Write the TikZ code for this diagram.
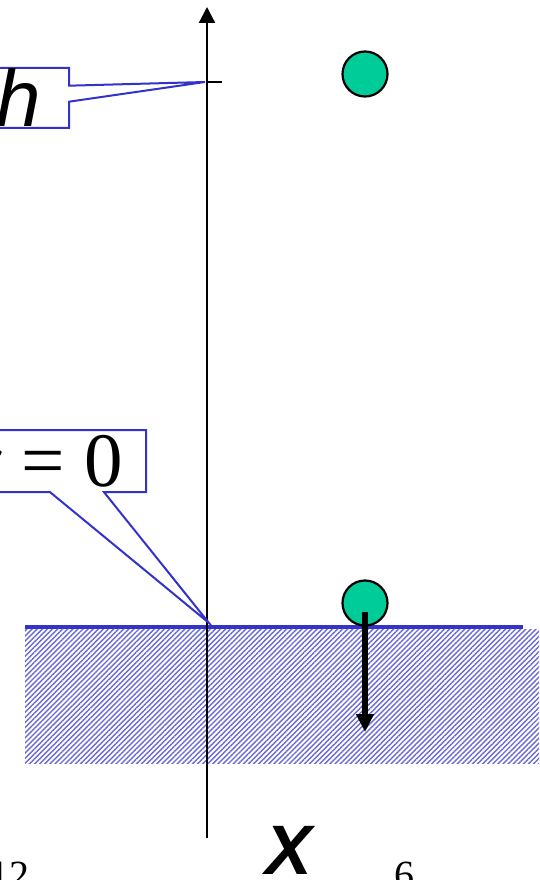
\documentclass[tikz,border=0pt]{standalone}
\usepackage{fontspec}
\setmainfont{Liberation Serif}
\setsansfont{Liberation Sans}
\usetikzlibrary{shapes.callouts,patterns.meta,arrows.meta,positioning}

\definecolor{ballgreen}{HTML}{00CC99}
\definecolor{groundblue}{HTML}{3333CC}
\definecolor{hatchblue}{HTML}{6A6AD6}

\tikzset{
    ball/.style={circle,draw=black,line width=2.2pt,fill=ballgreen,
        minimum size=45pt,inner sep=0pt},
    labelbox/.style={rectangle callout,draw=groundblue,line width=2pt,
        fill=white,inner ysep=0pt,anchor=north east},
    pagenum/.style={inner sep=0pt,font=\fontsize{40}{40}\selectfont}
}

\begin{document}
\begin{tikzpicture}[x=1pt,y=-1pt]
    \useasboundingbox (0,0) rectangle (539,880);
    % ground
    \fill[pattern={Lines[angle=45,distance=3.6pt,line width=1.4pt]},
        pattern color=hatchblue] (25,629) rectangle (539,763);
    \draw[groundblue,line width=4pt] (25,627)--(523,627);
    % axis
    \coordinate (o) at (207,627);
    \coordinate (top) at (207,7);
    \coordinate (bot) at (207,838);
    \coordinate (h) at (207,82);
    \coordinate (tick) at (222,82);
    \draw[line width=2.2pt,-{Triangle[width=16pt,length=16pt]}] (bot)--(top);
    \draw[line width=2.2pt] (h)--(tick);
    % balls
    \node[ball] (upper) at (365,74) {};
    \node[ball] (lower) at (365,603) {};
    \coordinate (fstart) at (365,612);
    \coordinate (fend) at (365,732);
    \draw[line width=6pt,-{Triangle[width=17pt,length=18pt]}] (fstart)--(fend);
    % labels
    \node[labelbox,callout absolute pointer={(205,82)},
        callout pointer width=16pt,minimum height=60pt,inner xsep=28pt,
        font=\sffamily\itshape\fontsize{80}{80}\selectfont]
        (hlabel) at (70,67) {h};
    \node[labelbox,callout absolute pointer={(209,623)},
        callout pointer width=54pt,minimum height=62pt,inner xsep=23pt,
        font=\fontsize{77}{77}\selectfont]
        (xlabel) at (147,429) {\textit{x} = 0};
    \node[font=\sffamily\bfseries\itshape\fontsize{70}{70}\selectfont,
        inner sep=0pt] (xaxis) at (289,850) {X};
    \node[pagenum,anchor=base east] (pgleft) at (30,888) {12};
    \node[pagenum,anchor=base west] (pgright) at (394,888) {6};
\end{tikzpicture}
\end{document}
